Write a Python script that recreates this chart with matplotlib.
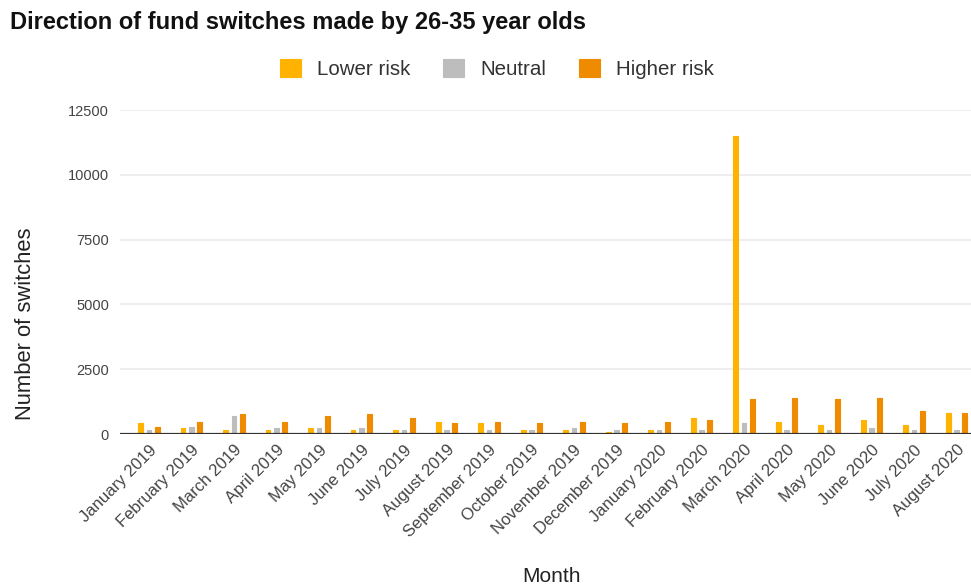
import numpy as np
import matplotlib.pyplot as plt

plt.rcParams['font.family'] = ['Liberation Sans', 'DejaVu Sans']

months = ["January 2019", "February 2019", "March 2019", "April 2019", "May 2019",
          "June 2019", "July 2019", "August 2019", "September 2019", "October 2019",
          "November 2019", "December 2019", "January 2020", "February 2020",
          "March 2020", "April 2020", "May 2020", "June 2020", "July 2020",
          "August 2020"]
lower_risk = [410, 220, 150, 150, 220, 150, 150, 480, 410, 150,
              150, 90, 150, 620, 11500, 480, 350, 540, 350, 810]
neutral = [150, 280, 680, 220, 220, 220, 150, 150, 150, 150,
           220, 150, 150, 150, 410, 150, 150, 220, 150, 150]
higher_risk = [280, 480, 760, 480, 680, 760, 620, 410, 480, 410,
               480, 410, 480, 540, 1340, 1390, 1340, 1390, 875, 810]

colors = ["#FFB300", "#BDBDBD", "#EF8B00"]
labels = ["Lower risk", "Neutral", "Higher risk"]

fig = plt.figure(figsize=(9.71, 5.86), dpi=100)
ax = fig.add_axes([120 / 971, 1 - 434 / 586, 851 / 971, (434 - 110) / 586])

x = np.arange(len(months))
off = 0.195
w = 0.11
for i, (vals, c, lab) in enumerate(zip([lower_risk, neutral, higher_risk], colors, labels)):
    ax.bar(x + (i - 1) * off, vals, width=w, color=c, label=lab,
           edgecolor=c, linewidth=0.8, joinstyle='round', zorder=3)

ax.set_xlim(-0.68, 19.34)
ax.set_ylim(0, 12500)
ax.set_yticks([0, 2500, 5000, 7500, 10000, 12500])
ax.yaxis.grid(True, color="#EBEBEB", linewidth=1.2, zorder=0)
ax.axhline(0, color="#333333", linewidth=1.6, zorder=4)
for s in ax.spines.values():
    s.set_visible(False)
ax.tick_params(axis='both', length=0, labelcolor="#444444")
ax.tick_params(axis='y', pad=8, labelsize=10.5)
ax.set_xticks(x)
ax.set_xticklabels(months, rotation=45, ha='right', rotation_mode='anchor')
ax.tick_params(axis='x', pad=6, labelsize=12)

ax.set_ylabel("Number of switches", fontsize=15.8, color="#222222")
ax.yaxis.set_label_coords(-0.099, 0.34)
fig.text(551 / 971, 1 - 576 / 586, "Month", fontsize=15, color="#222222",
         ha='center', va='center')

fig.text(10 / 971, 1 - 23 / 586, "Direction of fund switches made by 26-35 year olds",
         fontsize=17, fontweight='bold', color="#111111", va='center')

fig.legend(loc='center', bbox_to_anchor=(497 / 971, 1 - 69 / 586), ncol=3,
           frameon=False, fontsize=14.8, handlelength=1.0, handleheight=1.0,
           columnspacing=1.6, handletextpad=0.8, labelcolor="#333333")

fig.savefig("out.png", dpi=100)
